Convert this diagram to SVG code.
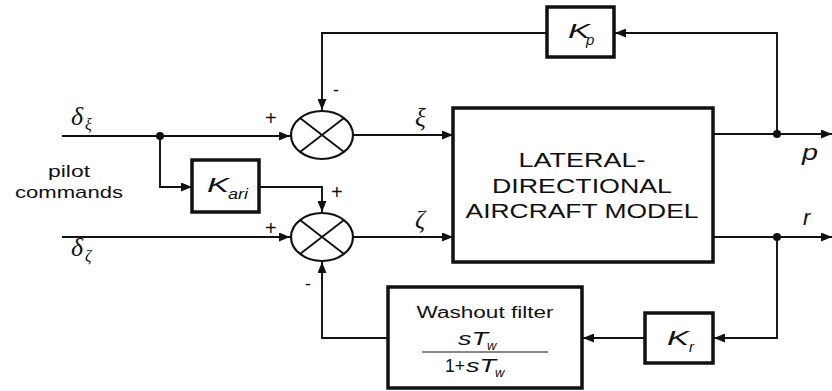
<svg xmlns="http://www.w3.org/2000/svg" width="832" height="391" viewBox="0 0 832 391">
<defs>
<marker id="ah" markerWidth="11" markerHeight="9" refX="11" refY="4.5" orient="auto" markerUnits="userSpaceOnUse">
<path d="M0,0 L11,4.5 L0,9 z" fill="#111"/>
</marker>
<style>
.ln{fill:none;stroke:#111;stroke-width:1.9}
.bx{fill:#fff;stroke:#111;stroke-width:3.5}
.sm{fill:#fff;stroke:#111;stroke-width:2.2}
.t{font-family:"Liberation Sans",Arial,sans-serif;fill:#111}
.i{font-family:"Liberation Sans",Arial,sans-serif;font-style:italic;fill:#111}
.g{font-family:"Liberation Serif","Times New Roman",serif;font-style:italic;fill:#111}
</style>
</defs>
<rect width="832" height="391" fill="#fff"/>
<g id="connectors">
<path class="ln" d="M62 136 H290" marker-end="url(#ah)"/>
<path class="ln" d="M160 136 V187 H192" marker-end="url(#ah)"/>
<path class="ln" d="M259 187 H322 V212" marker-end="url(#ah)"/>
<path class="ln" d="M62 237 H290" marker-end="url(#ah)"/>
<path class="ln" d="M353 135 H453" marker-end="url(#ah)"/>
<path class="ln" d="M353 237 H453" marker-end="url(#ah)"/>
<path class="ln" d="M713 134 H832" marker-end="url(#ah)"/>
<path class="ln" d="M777 134 V33 H615" marker-end="url(#ah)"/>
<path class="ln" d="M547 33 H322 V110" marker-end="url(#ah)"/>
<path class="ln" d="M713 237 H832" marker-end="url(#ah)"/>
<path class="ln" d="M777 237 V338 H714" marker-end="url(#ah)"/>
<path class="ln" d="M645 338 H583" marker-end="url(#ah)"/>
<path class="ln" d="M388 338 H322 V262" marker-end="url(#ah)"/>
<circle cx="160" cy="136" r="4" fill="#111"/>
<circle cx="777" cy="134" r="4" fill="#111"/>
<circle cx="777" cy="237" r="4" fill="#111"/>
</g>
<g id="sum1">
<ellipse class="sm" cx="322" cy="135" rx="31" ry="24"/>
<path class="ln" d="M300 118 L344 152 M344 118 L300 152"/>
<text class="t" x="265" y="125" font-size="20">+</text>
<text class="t" x="333" y="96" font-size="18">-</text>
</g>
<g id="sum2">
<ellipse class="sm" cx="322" cy="237" rx="31" ry="24"/>
<path class="ln" d="M300 220 L344 254 M344 220 L300 254"/>
<text class="t" x="265" y="235" font-size="20">+</text>
<text class="t" x="331" y="199" font-size="20">+</text>
<text class="t" x="305" y="290" font-size="18">-</text>
</g>
<g id="model">
<rect class="bx" x="453" y="108" width="260" height="154"/>
<text class="t" x="582" y="167" font-size="21" text-anchor="middle" textLength="127" lengthAdjust="spacingAndGlyphs">LATERAL-</text>
<text class="t" x="582" y="193" font-size="21" text-anchor="middle" textLength="180" lengthAdjust="spacingAndGlyphs">DIRECTIONAL</text>
<text class="t" x="582" y="218" font-size="21" text-anchor="middle" textLength="233" lengthAdjust="spacingAndGlyphs">AIRCRAFT MODEL</text>
</g>
<g id="Kp">
<rect class="bx" x="547" y="7" width="67" height="50"/>
<text class="i" x="568" y="38" font-size="21" textLength="22" lengthAdjust="spacingAndGlyphs">K</text>
<text class="i" x="586" y="45" font-size="15">p</text>
</g>
<g id="Kari">
<rect class="bx" x="192" y="160" width="67" height="52"/>
<text class="i" x="207" y="192" font-size="21" textLength="22" lengthAdjust="spacingAndGlyphs">K</text>
<text class="i" x="228" y="199" font-size="15" textLength="20" lengthAdjust="spacingAndGlyphs">ari</text>
</g>
<g id="Kr">
<rect class="bx" x="645" y="313" width="68" height="50"/>
<text class="i" x="667" y="345" font-size="21" textLength="22" lengthAdjust="spacingAndGlyphs">K</text>
<text class="i" x="689" y="352" font-size="15">r</text>
</g>
<g id="washout">
<rect class="bx" x="388" y="287" width="194" height="101"/>
<text class="t" x="485" y="318" font-size="16" text-anchor="middle" textLength="137" lengthAdjust="spacingAndGlyphs">Washout filter</text>
<text class="i" x="458" y="345" font-size="19" textLength="30" lengthAdjust="spacingAndGlyphs">sT</text>
<text class="i" x="487" y="350" font-size="13">w</text>
<line x1="422" y1="352" x2="548" y2="352" stroke="#111" stroke-width="1"/>
<text class="t" x="445" y="372" font-size="19" textLength="20" lengthAdjust="spacingAndGlyphs">1+</text>
<text class="i" x="466" y="372" font-size="19" textLength="30" lengthAdjust="spacingAndGlyphs">sT</text>
<text class="i" x="495" y="377" font-size="13">w</text>
</g>
<g id="labels">
<text class="g" x="71" y="125" font-size="26">δ</text>
<text class="g" x="85" y="130" font-size="16">ξ</text>
<text class="g" x="71" y="256" font-size="26">δ</text>
<text class="g" x="85" y="261" font-size="16">ζ</text>
<text class="t" x="69" y="177" font-size="17" text-anchor="middle" textLength="42" lengthAdjust="spacingAndGlyphs">pilot</text>
<text class="t" x="69" y="198" font-size="17" text-anchor="middle" textLength="108" lengthAdjust="spacingAndGlyphs">commands</text>
<text class="g" x="415" y="126" font-size="25">ξ</text>
<text class="g" x="415" y="228" font-size="25">ζ</text>
<text class="i" x="802" y="160" font-size="22" textLength="16" lengthAdjust="spacingAndGlyphs">p</text>
<text class="i" x="803" y="225" font-size="22">r</text>
</g>
</svg>
